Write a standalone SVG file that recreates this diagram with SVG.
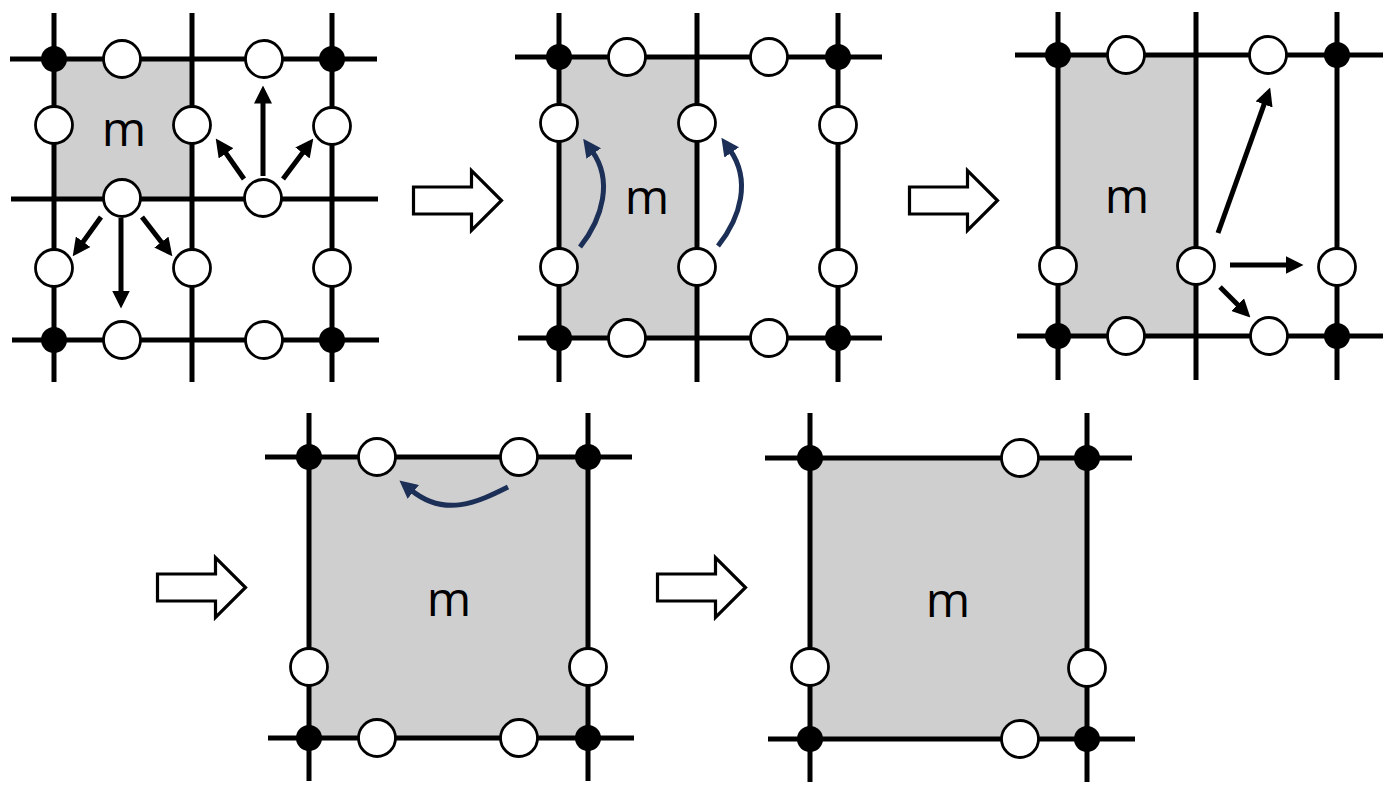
<svg xmlns="http://www.w3.org/2000/svg" width="1397" height="795" viewBox="0 0 1397 795">
<style>
.cell{fill:#d0cfd0;stroke:none}
.ln{stroke:#000;stroke-width:5;fill:none}
.dot{fill:#000}
.oc{fill:#fff;stroke:#000;stroke-width:2.8}
.m{font-family:"Open Sans","Liberation Sans",sans-serif;font-size:48px;fill:#000;text-anchor:middle}
.ba{stroke:#000;stroke-width:5;fill:none;marker-end:url(#hb)}
.bl{stroke:#1b2f57;stroke-width:5;fill:none;marker-end:url(#hn)}
.big{fill:#fff;stroke:#000;stroke-width:3.2}
</style>
<defs>
<marker id="hb" viewBox="0 0 18 18" refX="12.5" refY="9" markerWidth="18" markerHeight="18" markerUnits="userSpaceOnUse" orient="auto"><path d="M0,0 L18,9 L0,18 z" fill="#000"/></marker>
<marker id="hn" viewBox="0 0 18 18" refX="3" refY="9" markerWidth="18" markerHeight="18" markerUnits="userSpaceOnUse" orient="auto"><path d="M0,0 L18,9 L0,18 z" fill="#1b2f57"/></marker>
<path id="bigarrow" class="big" d="M0,-13.5 L58,-13.5 L58,-30 L88,0 L58,30 L58,13.5 L0,13.5 z"/>
</defs>
<rect width="1397" height="795" fill="#fff"/>

<g id="panel1">
<rect class="cell" x="54" y="59" width="138" height="140"/>
<path class="ln" d="M10,59H377 M11,199H378 M12,340H379 M54,13V382 M192,13V382 M332,13V382"/>
<circle class="dot" cx="54" cy="59" r="13"/><circle class="dot" cx="332" cy="59" r="13"/>
<circle class="dot" cx="54" cy="340" r="13"/><circle class="dot" cx="332" cy="340" r="13"/>
<g id="p1-nodes">
<circle class="oc" cx="122" cy="59" r="18.5"/><circle class="oc" cx="264" cy="59" r="18.5"/>
<circle class="oc" cx="122" cy="198" r="18.5"/><circle class="oc" cx="263" cy="198" r="18.5"/>
<circle class="oc" cx="122" cy="340" r="18.5"/><circle class="oc" cx="264" cy="340" r="18.5"/>
<circle class="oc" cx="54" cy="125" r="18.5"/><circle class="oc" cx="54" cy="268" r="18.5"/>
<circle class="oc" cx="192" cy="125" r="18.5"/><circle class="oc" cx="192" cy="268" r="18.5"/>
<circle class="oc" cx="332" cy="126" r="18.5"/><circle class="oc" cx="332" cy="268" r="18.5"/>
</g>
<text class="m" x="124" y="146">m</text>
</g>

<g id="panel2">
<rect class="cell" x="559" y="57" width="138" height="281"/>
<path class="ln" d="M515,57H882 M518,338H882 M559,13V382 M697,13V382 M838,13V382"/>
<circle class="dot" cx="559" cy="57" r="13"/><circle class="dot" cx="838" cy="57" r="13"/>
<circle class="dot" cx="559" cy="338" r="13"/><circle class="dot" cx="838" cy="338" r="13"/>
<g id="p2-nodes">
<circle class="oc" cx="627" cy="57" r="18.5"/><circle class="oc" cx="769" cy="57" r="18.5"/>
<circle class="oc" cx="627" cy="338" r="18.5"/><circle class="oc" cx="769" cy="338" r="18.5"/>
<circle class="oc" cx="559" cy="123" r="18.5"/><circle class="oc" cx="559" cy="267" r="18.5"/>
<circle class="oc" cx="697" cy="123" r="18.5"/><circle class="oc" cx="697" cy="267" r="18.5"/>
<circle class="oc" cx="838" cy="125" r="18.5"/><circle class="oc" cx="838" cy="268" r="18.5"/>
</g>
<text class="m" x="647" y="214">m</text>
</g>

<g id="panel3">
<rect class="cell" x="1058" y="55" width="138" height="281"/>
<path class="ln" d="M1015,55H1383 M1017,336H1383 M1058,12V380 M1196,12V380 M1337,12V380"/>
<circle class="dot" cx="1058" cy="55" r="13"/><circle class="dot" cx="1337" cy="55" r="13"/>
<circle class="dot" cx="1058" cy="336" r="13"/><circle class="dot" cx="1337" cy="336" r="13"/>
<g id="p3-nodes">
<circle class="oc" cx="1126" cy="55" r="18.5"/><circle class="oc" cx="1268" cy="55" r="18.5"/>
<circle class="oc" cx="1126" cy="336" r="18.5"/><circle class="oc" cx="1269" cy="336" r="18.5"/>
<circle class="oc" cx="1058" cy="266" r="18.5"/><circle class="oc" cx="1196" cy="266" r="18.5"/>
<circle class="oc" cx="1337" cy="267" r="18.5"/>
</g>
<text class="m" x="1127" y="213">m</text>
</g>

<g id="panel4">
<rect class="cell" x="309" y="457" width="279" height="281"/>
<path class="ln" d="M265,457H632 M268,738H634 M309,413V781 M588,413V781"/>
<circle class="dot" cx="309" cy="457" r="13"/><circle class="dot" cx="588" cy="457" r="13"/>
<circle class="dot" cx="309" cy="738" r="13"/><circle class="dot" cx="588" cy="738" r="13"/>
<g id="p4-nodes">
<circle class="oc" cx="377" cy="457" r="18.5"/><circle class="oc" cx="519" cy="457" r="18.5"/>
<circle class="oc" cx="377" cy="738" r="18.5"/><circle class="oc" cx="519" cy="738" r="18.5"/>
<circle class="oc" cx="309" cy="667" r="18.5"/><circle class="oc" cx="588" cy="667" r="18.5"/>
</g>
<text class="m" x="449" y="616">m</text>
</g>

<g id="panel5">
<rect class="cell" x="810" y="458" width="277" height="281"/>
<path class="ln" d="M765,458H1132 M768,739H1135 M810,413V782 M1087,413V782"/>
<circle class="dot" cx="810" cy="458" r="13"/><circle class="dot" cx="1087" cy="458" r="13"/>
<circle class="dot" cx="810" cy="739" r="13"/><circle class="dot" cx="1087" cy="739" r="13"/>
<g id="p5-nodes">
<circle class="oc" cx="1020" cy="458" r="18.5"/><circle class="oc" cx="1020" cy="739" r="18.5"/>
<circle class="oc" cx="810" cy="667" r="18.5"/><circle class="oc" cx="1087" cy="668" r="18.5"/>
</g>
<text class="m" x="948" y="617">m</text>
</g>

<g id="transitions">
<use href="#bigarrow" transform="translate(413.5,200.5)"/>
<use href="#bigarrow" transform="translate(909.5,200.5)"/>
<use href="#bigarrow" transform="translate(157.5,587.5)"/>
<use href="#bigarrow" transform="translate(657.5,587.5)"/>
</g>

<g id="connectors">
<path class="ba" d="M263,176 L263,91"/>
<path class="ba" d="M244,179 L218.9,143.1"/>
<path class="ba" d="M283,179 L310,143"/>
<path class="ba" d="M121,218 L121,303"/>
<path class="ba" d="M101,217 L75.9,251.9"/>
<path class="ba" d="M142,217 L169,252"/>
<path class="ba" d="M1218,233 L1268.3,92.7"/>
<path class="ba" d="M1230,265 L1298,265"/>
<path class="ba" d="M1220,287 L1246.5,313.5"/>
<path class="bl" d="M580,247 C603,218 613,180 592,151"/>
<path class="bl" d="M718,246 C741,217 751,180 730,150"/>
<path class="bl" d="M508,487 C478,502 445,518 411,490"/>
</g>
</svg>
